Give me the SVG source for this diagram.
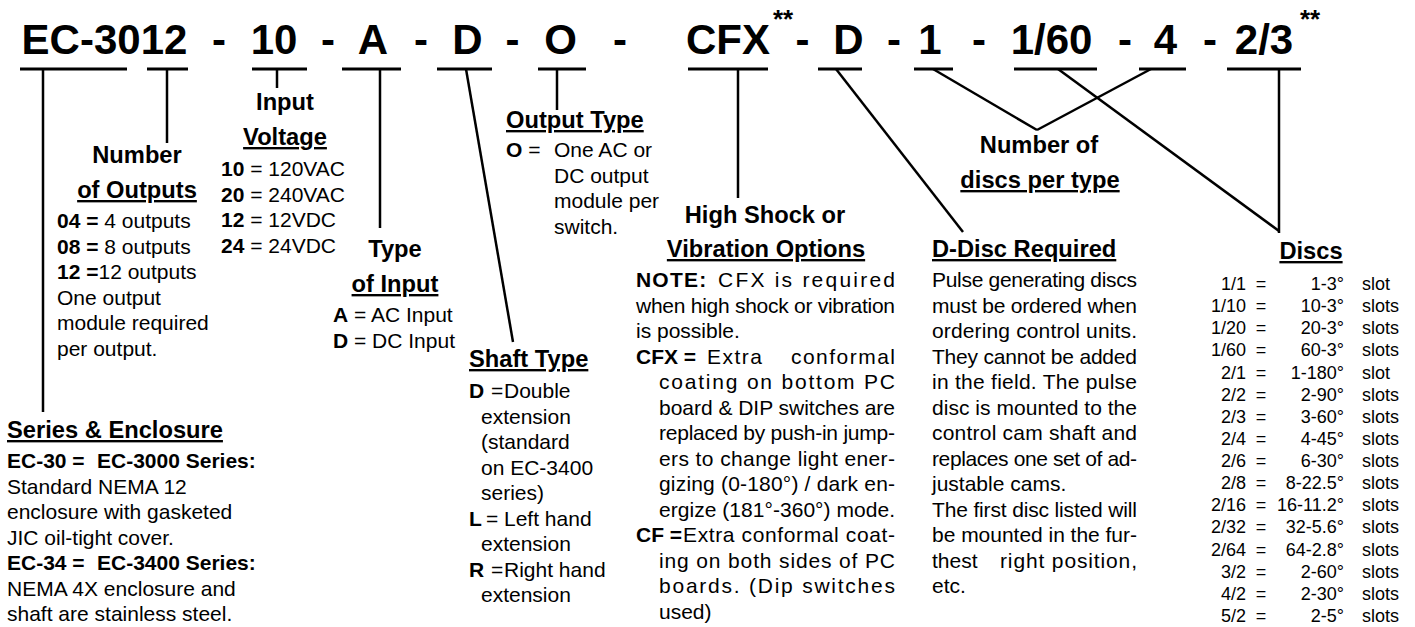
<svg xmlns="http://www.w3.org/2000/svg" width="1415" height="627" viewBox="0 0 1415 627">
<style>
text { font-family: "Liberation Sans", Arial, Helvetica, sans-serif; fill: #000; }
.title { font-weight: bold; font-size: 42px; text-anchor: middle; }
.star { font-weight: bold; font-size: 26px; text-anchor: middle; }
.h { font-weight: bold; font-size: 23.7px; }
.c { text-anchor: middle; }
.u { text-decoration: underline; }
.b { font-size: 21px; }
.bd { font-weight: bold; }
.tab { font-size: 18px; }
.r { text-anchor: end; }
.conn line { stroke: #000; stroke-width: 2.5; stroke-linecap: butt; }
.ul line { stroke: #000; stroke-width: 3; }
</style>
<rect width="1415" height="627" fill="#fff"/>

<g id="code">
  <text class="title" x="104.5" y="54">EC-3012</text>
  <text class="title" x="219" y="54">-</text>
  <text class="title" x="274" y="54">10</text>
  <text class="title" x="328" y="54">-</text>
  <text class="title" x="373" y="54">A</text>
  <text class="title" x="421" y="54">-</text>
  <text class="title" x="467.5" y="54">D</text>
  <text class="title" x="512.5" y="54">-</text>
  <text class="title" x="560.5" y="54">O</text>
  <text class="title" x="620" y="54">-</text>
  <text class="title" x="728" y="54">CFX</text>
  <text class="star" x="783" y="28">**</text>
  <text class="title" x="802.5" y="54">-</text>
  <text class="title" x="848.5" y="54">D</text>
  <text class="title" x="894" y="54">-</text>
  <text class="title" x="930" y="54">1</text>
  <text class="title" x="979" y="54">-</text>
  <text class="title" x="1051.5" y="54">1/60</text>
  <text class="title" x="1125" y="54">-</text>
  <text class="title" x="1165.5" y="54">4</text>
  <text class="title" x="1210" y="54">-</text>
  <text class="title" x="1264" y="54">2/3</text>
  <text class="star" x="1310" y="28">**</text>
</g>

<g id="connectors">
  <g class="ul">
    <line x1="20" y1="69" x2="127" y2="69"/>
    <line x1="147" y1="69" x2="188" y2="69"/>
    <line x1="252" y1="69" x2="307" y2="69"/>
    <line x1="342" y1="69" x2="401" y2="69"/>
    <line x1="437" y1="69" x2="492" y2="69"/>
    <line x1="538" y1="69" x2="586" y2="69"/>
    <line x1="688" y1="69" x2="768" y2="69"/>
    <line x1="818" y1="69" x2="862" y2="69"/>
    <line x1="914" y1="69" x2="953" y2="69"/>
    <line x1="1014" y1="69" x2="1097" y2="69"/>
    <line x1="1139" y1="69" x2="1186" y2="69"/>
    <line x1="1227" y1="69" x2="1301" y2="69"/>
  </g>
  <g class="conn">
    <line x1="43" y1="69" x2="43" y2="412"/>
    <line x1="167" y1="69" x2="167" y2="143"/>
    <line x1="277" y1="69" x2="277" y2="88"/>
    <line x1="380" y1="69" x2="380" y2="228"/>
    <line x1="466" y1="69" x2="513" y2="342"/>
    <line x1="557" y1="69" x2="557" y2="110"/>
    <line x1="738" y1="69" x2="738" y2="198"/>
    <line x1="836" y1="69" x2="963" y2="232"/>
    <line x1="933" y1="69" x2="1037" y2="130"/>
    <line x1="1151" y1="69" x2="1037" y2="130"/>
    <line x1="1058" y1="69" x2="1279" y2="231"/>
    <line x1="1279" y1="69" x2="1279" y2="233"/>
  </g>
</g>

<g id="series-enclosure">
  <text class="h u" x="7" y="438">Series &amp; Enclosure</text>
  <text class="b bd" x="7" y="468">EC-30 =  <tspan x="97">EC-3000 Series:</tspan></text>
  <text class="b" x="7" y="493.5">Standard NEMA 12</text>
  <text class="b" x="7" y="519">enclosure with gasketed</text>
  <text class="b" x="7" y="544.5">JIC oil-tight cover.</text>
  <text class="b bd" x="7" y="570">EC-34 =  <tspan x="97">EC-3400 Series:</tspan></text>
  <text class="b" x="7" y="595.5">NEMA 4X enclosure and</text>
  <text class="b" x="7" y="621">shaft are stainless steel.</text>
</g>

<g id="number-of-outputs">
  <text class="h c" x="137" y="163">Number</text>
  <text class="h c u" x="137" y="198">of Outputs</text>
  <text class="b" x="57" y="228"><tspan class="bd">04 =</tspan> 4 outputs</text>
  <text class="b" x="57" y="253.5"><tspan class="bd">08 =</tspan> 8 outputs</text>
  <text class="b" x="57" y="279"><tspan class="bd">12 =</tspan>12 outputs</text>
  <text class="b" x="57" y="304.5">One output</text>
  <text class="b" x="57" y="330">module required</text>
  <text class="b" x="57" y="355.5">per output.</text>
</g>

<g id="input-voltage">
  <text class="h c" x="285" y="110">Input</text>
  <text class="h c u" x="285" y="145">Voltage</text>
  <text class="b" x="221" y="176"><tspan class="bd">10</tspan> = 120VAC</text>
  <text class="b" x="221" y="201.5"><tspan class="bd">20</tspan> = 240VAC</text>
  <text class="b" x="221" y="227"><tspan class="bd">12</tspan> = 12VDC</text>
  <text class="b" x="221" y="252.5"><tspan class="bd">24</tspan> = 24VDC</text>
</g>

<g id="type-of-input">
  <text class="h c" x="395" y="257">Type</text>
  <text class="h c u" x="395" y="292">of Input</text>
  <text class="b" x="333" y="322"><tspan class="bd">A</tspan> = AC Input</text>
  <text class="b" x="333" y="347.5"><tspan class="bd">D</tspan> = DC Input</text>
</g>

<g id="shaft-type">
  <text class="h u" x="469" y="367">Shaft Type</text>
  <text class="b" x="469" y="398"><tspan class="bd">D</tspan><tspan x="491">=</tspan><tspan x="504">Double</tspan></text>
  <text class="b" x="481" y="423.5">extension</text>
  <text class="b" x="481" y="449">(standard</text>
  <text class="b" x="481" y="474.5">on EC-3400</text>
  <text class="b" x="481" y="500">series)</text>
  <text class="b" x="469" y="525.5"><tspan class="bd">L</tspan><tspan x="486">=</tspan><tspan x="504">Left hand</tspan></text>
  <text class="b" x="481" y="551">extension</text>
  <text class="b" x="469" y="576.5"><tspan class="bd">R</tspan><tspan x="491">=</tspan><tspan x="504">Right hand</tspan></text>
  <text class="b" x="481" y="602">extension</text>
</g>

<g id="output-type">
  <text class="h u" x="506" y="128">Output Type</text>
  <text class="b" x="506" y="157"><tspan class="bd">O</tspan> =<tspan x="554">One AC or</tspan></text>
  <text class="b" x="554" y="182.5">DC output</text>
  <text class="b" x="554" y="208">module per</text>
  <text class="b" x="554" y="233.5">switch.</text>
</g>

<g id="vibration-options">
  <text class="h c" x="765" y="223">High Shock or</text>
  <text class="h c u" x="766" y="257">Vibration Options</text>
  <text class="b bd" x="636" y="287" letter-spacing="1.2">NOTE:</text>
  <text class="b" x="718" y="287" textLength="177" lengthAdjust="spacing">CFX is required</text>
  <text class="b" x="636" y="312.5" textLength="259" lengthAdjust="spacing">when high shock or vibration</text>
  <text class="b" x="636" y="338">is possible.</text>
  <text class="b bd" x="636" y="363.5">CFX =</text>
  <text class="b" x="707" y="363.5" textLength="55" lengthAdjust="spacing">Extra</text>
  <text class="b" x="791" y="363.5" textLength="104" lengthAdjust="spacing">conformal</text>
  <text class="b" x="659" y="389" textLength="236" lengthAdjust="spacing">coating on bottom PC</text>
  <text class="b" x="659" y="414.5" textLength="236" lengthAdjust="spacing">board &amp; DIP switches are</text>
  <text class="b" x="659" y="440" textLength="236" lengthAdjust="spacing">replaced by push-in jump-</text>
  <text class="b" x="659" y="465.5" textLength="236" lengthAdjust="spacing">ers to change light ener-</text>
  <text class="b" x="659" y="491" textLength="236" lengthAdjust="spacing">gizing (0-180°) / dark en-</text>
  <text class="b" x="659" y="516.5" textLength="236" lengthAdjust="spacing">ergize (181°-360°) mode.</text>
  <text class="b bd" x="636" y="542">CF =</text>
  <text class="b" x="683" y="542" textLength="212" lengthAdjust="spacing">Extra conformal coat-</text>
  <text class="b" x="659" y="567.5" textLength="236" lengthAdjust="spacing">ing on both sides of PC</text>
  <text class="b" x="659" y="593" textLength="236" lengthAdjust="spacing">boards. (Dip switches</text>
  <text class="b" x="659" y="618.5">used)</text>
</g>

<g id="d-disc-required">
  <text class="h u" x="932" y="257">D-Disc Required</text>
  <text class="b" x="932" y="287" textLength="205" lengthAdjust="spacing">Pulse generating discs</text>
  <text class="b" x="932" y="312.5" textLength="205" lengthAdjust="spacing">must be ordered when</text>
  <text class="b" x="932" y="338" textLength="205" lengthAdjust="spacing">ordering control units.</text>
  <text class="b" x="932" y="363.5" textLength="205" lengthAdjust="spacing">They cannot be added</text>
  <text class="b" x="932" y="389" textLength="205" lengthAdjust="spacing">in the field. The pulse</text>
  <text class="b" x="932" y="414.5" textLength="205" lengthAdjust="spacing">disc is mounted to the</text>
  <text class="b" x="932" y="440" textLength="205" lengthAdjust="spacing">control cam shaft and</text>
  <text class="b" x="932" y="465.5" textLength="205" lengthAdjust="spacing">replaces one set of ad-</text>
  <text class="b" x="932" y="491">justable cams.</text>
  <text class="b" x="932" y="516.5" textLength="205" lengthAdjust="spacing">The first disc listed will</text>
  <text class="b" x="932" y="542" textLength="205" lengthAdjust="spacing">be mounted in the fur-</text>
  <text class="b" x="932" y="567.5">thest</text>
  <text class="b" x="1000" y="567.5" textLength="137" lengthAdjust="spacing">right position,</text>
  <text class="b" x="932" y="593">etc.</text>
</g>

<g id="number-of-discs">
  <text class="h c" x="1039" y="153">Number of</text>
  <text class="h c u" x="1040" y="188">discs per type</text>
</g>

<g id="discs">
  <text class="h c u" x="1311" y="259">Discs</text>
  <g class="tab">
    <text class="tab r" x="1246" y="290">1/1</text><text class="tab c" x="1261" y="290">=</text><text class="tab r" x="1344" y="290">1-3°</text><text class="tab" x="1362" y="290">slot</text>
    <text class="tab r" x="1246" y="312.1">1/10</text><text class="tab c" x="1261" y="312.1">=</text><text class="tab r" x="1344" y="312.1">10-3°</text><text class="tab" x="1362" y="312.1">slots</text>
    <text class="tab r" x="1246" y="334.3">1/20</text><text class="tab c" x="1261" y="334.3">=</text><text class="tab r" x="1344" y="334.3">20-3°</text><text class="tab" x="1362" y="334.3">slots</text>
    <text class="tab r" x="1246" y="356.4">1/60</text><text class="tab c" x="1261" y="356.4">=</text><text class="tab r" x="1344" y="356.4">60-3°</text><text class="tab" x="1362" y="356.4">slots</text>
    <text class="tab r" x="1246" y="378.5">2/1</text><text class="tab c" x="1261" y="378.5">=</text><text class="tab r" x="1344" y="378.5">1-180°</text><text class="tab" x="1362" y="378.5">slot</text>
    <text class="tab r" x="1246" y="400.7">2/2</text><text class="tab c" x="1261" y="400.7">=</text><text class="tab r" x="1344" y="400.7">2-90°</text><text class="tab" x="1362" y="400.7">slots</text>
    <text class="tab r" x="1246" y="422.8">2/3</text><text class="tab c" x="1261" y="422.8">=</text><text class="tab r" x="1344" y="422.8">3-60°</text><text class="tab" x="1362" y="422.8">slots</text>
    <text class="tab r" x="1246" y="444.9">2/4</text><text class="tab c" x="1261" y="444.9">=</text><text class="tab r" x="1344" y="444.9">4-45°</text><text class="tab" x="1362" y="444.9">slots</text>
    <text class="tab r" x="1246" y="467.0">2/6</text><text class="tab c" x="1261" y="467.0">=</text><text class="tab r" x="1344" y="467.0">6-30°</text><text class="tab" x="1362" y="467.0">slots</text>
    <text class="tab r" x="1246" y="489.2">2/8</text><text class="tab c" x="1261" y="489.2">=</text><text class="tab r" x="1344" y="489.2">8-22.5°</text><text class="tab" x="1362" y="489.2">slots</text>
    <text class="tab r" x="1246" y="511.3">2/16</text><text class="tab c" x="1261" y="511.3">=</text><text class="tab r" x="1344" y="511.3">16-11.2°</text><text class="tab" x="1362" y="511.3">slots</text>
    <text class="tab r" x="1246" y="533.4">2/32</text><text class="tab c" x="1261" y="533.4">=</text><text class="tab r" x="1344" y="533.4">32-5.6°</text><text class="tab" x="1362" y="533.4">slots</text>
    <text class="tab r" x="1246" y="555.6">2/64</text><text class="tab c" x="1261" y="555.6">=</text><text class="tab r" x="1344" y="555.6">64-2.8°</text><text class="tab" x="1362" y="555.6">slots</text>
    <text class="tab r" x="1246" y="577.7">3/2</text><text class="tab c" x="1261" y="577.7">=</text><text class="tab r" x="1344" y="577.7">2-60°</text><text class="tab" x="1362" y="577.7">slots</text>
    <text class="tab r" x="1246" y="599.8">4/2</text><text class="tab c" x="1261" y="599.8">=</text><text class="tab r" x="1344" y="599.8">2-30°</text><text class="tab" x="1362" y="599.8">slots</text>
    <text class="tab r" x="1246" y="622">5/2</text><text class="tab c" x="1261" y="622">=</text><text class="tab r" x="1344" y="622">2-5°</text><text class="tab" x="1362" y="622">slots</text>
  </g>
</g>
</svg>
